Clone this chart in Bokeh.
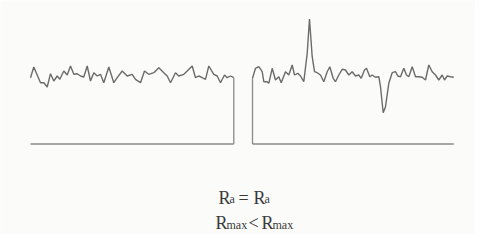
from bokeh.plotting import figure
from bokeh.models import Range1d
from bokeh.core.properties import value
from bokeh.embed import file_html
from bokeh.resources import INLINE

# Left profile (distance along, height above baseline)
left_x = [0, 3.3, 10, 13.3, 16.7, 20, 23.3, 26.7, 29.3, 33.3, 36.7, 40, 43.3, 46.7, 50, 53.3,
          56.7, 60, 63.3, 66.7, 70, 73.3, 78.3, 83.3, 86.7, 91.7, 96.7, 101.7, 105, 110, 114,
          118.3, 123.3, 128.3, 133.3, 136.7, 140, 145, 148.3, 153.3, 156.7, 161.7, 165, 168.3,
          171.7, 175, 178.3, 183.3, 186.7, 190, 194, 196.7, 200, 203.3]
left_h = [66.3, 77, 61.3, 61.3, 57, 70.3, 63, 68, 64.7, 73, 69, 78, 69.7, 70.3, 68, 67,
          78, 63, 71.3, 68, 69.7, 61.3, 77, 61.3, 66.3, 73, 68, 69.7, 64.7, 61.3, 73,
          69.7, 71.3, 76.3, 71.3, 68, 61.3, 71.3, 68, 69.7, 73, 78, 66.3, 68,
          66.3, 64.7, 78, 69.7, 68, 61.3, 69, 66.3, 68, 66.3]

# Right profile (same roughness plus one peak and one valley)
right_x = [0, 3, 6.3, 9.7, 11.3, 14.7, 16.3, 19.7, 23, 26.3, 28.7, 33, 36.3, 39.7, 42, 45.3,
           48, 51.3, 54.7, 57, 59.7, 62, 64.7, 68, 71.3, 74.7, 77.3, 80.7, 83, 86.3, 89.7,
           93, 96.3, 99.7, 103, 106.3, 108.7, 112, 114, 117.3, 119.7, 123, 126.3, 128,
           130.7, 133, 136.3, 139.7, 143, 145.3, 148, 151.3, 154, 156.3, 159.7, 163, 166.3,
           169.7, 173, 176.3, 179.7, 183, 186.3, 189.7, 192, 194.7, 198, 201.3]
right_h = [65.7, 75.7, 77.3, 72.3, 62.3, 62.3, 60.7, 75.7, 64, 67.3, 61.3, 72.3, 69, 79, 69, 70.7,
           68, 62.3, 90.7, 125, 87.3, 72.3, 71.3, 69, 62.3, 72.3, 77.3, 65.7, 62.3, 69, 74.7,
           74, 69, 72.3, 68, 69, 65.7, 74, 75.7, 67.3, 69, 66.7, 67.3, 57.3,
           31.3, 37.3, 60.7, 71.3, 72.3, 68, 67.3, 75.7, 69, 67.3, 77.3, 67.3, 67.3,
           66.7, 64, 79, 72.3, 69, 64, 69, 64, 68, 67.3, 66.7]

line1 = [("R", "main"), ("a", "sub"), ("=", "main"), ("R", "main"), ("a", "sub")]
line2 = [("R", "main"), ("max", "sub"), ("<", "main"), ("R", "main"), ("max", "sub")]

W, H = 475, 234
p = figure(width=W, height=H, output_backend="svg", toolbar_location=None,
           x_range=Range1d(-8, W - 8), y_range=Range1d(143.5 - H, 143.5),
           min_border=0, outline_line_color=None)
p.axis.visible = False
p.grid.visible = False
p.background_fill_color = "#fbfbf9"
p.border_fill_color = "#fbfbf9"

prof_color = "#6b6b6b"
base_color = "#8a8a8a"

# left panel
lo = 22
p.line([lo + x for x in left_x], left_h, line_color=prof_color, line_width=1.4)
p.line([lo + left_x[-1], lo + left_x[-1]], [left_h[-1], 0], line_color=base_color, line_width=1.3)
p.line([lo + left_x[0], lo + left_x[-1]], [0, 0], line_color=base_color, line_width=1.3)

# right panel
ro = 244
p.line([ro + x for x in right_x], right_h, line_color=prof_color, line_width=1.4)
p.line([ro + right_x[0], ro + right_x[0]], [0, right_h[0]], line_color=base_color, line_width=1.3)
p.line([ro + right_x[0], ro + right_x[-1]], [0, 0], line_color=base_color, line_width=1.3)

font = value("Liberation Sans Narrow")
def draw_line(parts, xs, y_base):
    for (txt, kind), x in zip(parts, xs):
        if kind == "main":
            p.text(x=[x], y=[y_base], text=[txt], text_font=font, text_font_size="18px",
                   text_color="#3a3a3a", text_align="left", text_baseline="alphabetic")
        else:
            p.text(x=[x], y=[y_base - 1.5], text=[txt], text_font=font, text_font_size="12px",
                   text_color="#3a3a3a", text_align="left", text_baseline="alphabetic")

draw_line(line1, [210, 221, 230, 245, 256], -53.5)
draw_line(line2, [207, 218, 240, 253, 264], -79)

open("out.html", "w").write(file_html(p, INLINE))
